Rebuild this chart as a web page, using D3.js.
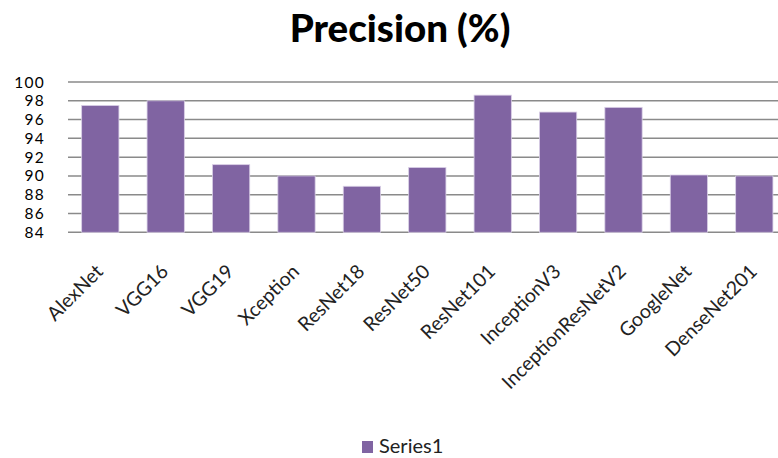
<!DOCTYPE html>
<html><head><meta charset="utf-8">
<script src="https://cdn.jsdelivr.net/npm/d3@7"></script>
<style>body{margin:0;background:#fff}svg{display:block}</style>
</head><body>
<script>
const categories = ["AlexNet","VGG16","VGG19","Xception","ResNet18","ResNet50","ResNet101","InceptionV3","InceptionResNetV2","GoogleNet","DenseNet201"];
const values = [97.5, 98.0, 91.2, 90.0, 88.9, 90.9, 98.6, 96.8, 97.3, 90.1, 90.0];
const yTicks = [84,86,88,90,92,94,96,98,100];
const seriesName = "Series1";
const title = "Precision (%)";

const W = 778, H = 458;
const svg = d3.select("body").append("svg").attr("width", W).attr("height", H);
const font = "Lato, 'Open Sans', sans-serif";

const x = d3.scaleBand().domain(categories).range([67.6, 787]).paddingInner(0.43).paddingOuter(0.215);
const y = d3.scaleLinear().domain([84, 100]).range([232.3, 82]);

// title
svg.append("text").attr("x", 400).attr("y", 42).attr("text-anchor", "middle")
  .attr("font-family", font).attr("font-weight", "900").attr("font-size", 38.5)
  .attr("fill", "#000").text(title);

// gridlines
svg.append("g").selectAll("line").data(yTicks).join("line")
  .attr("x1", 68).attr("x2", W).attr("y1", d => y(d)).attr("y2", d => y(d))
  .attr("stroke", "#8a8a8a").attr("stroke-width", 1.5);

// y labels
svg.append("g").selectAll("text").data(yTicks).join("text")
  .attr("x", 45).attr("y", d => y(d) + 5.5).attr("text-anchor", "end")
  .attr("font-family", font).attr("font-size", 15.5).attr("letter-spacing", 1.3)
  .attr("fill", "#000").text(d => d);

// bars
svg.append("g").selectAll("rect").data(values).join("rect")
  .attr("x", (d, i) => x(categories[i])).attr("width", x.bandwidth())
  .attr("y", d => y(d)).attr("height", d => y(84) - y(d))
  .attr("fill", "#8064a2").attr("stroke", "#d9cfe6").attr("stroke-width", 0.8);

// x labels
svg.append("g").selectAll("text").data(categories).join("text")
  .attr("transform", d => `translate(${x(d) + x.bandwidth()/2 - 1},${268}) rotate(-45)`)
  .attr("text-anchor", "end").attr("dy", "0.35em")
  .attr("font-family", font).attr("font-size", 19.5).attr("fill", "#222").text(d => d);

// legend
svg.append("rect").attr("x", 362).attr("y", 441).attr("width", 11).attr("height", 12).attr("fill", "#8064a2");
svg.append("text").attr("x", 379).attr("y", 453).attr("font-family", font).attr("font-size", 20)
  .attr("fill", "#222").text(seriesName);
</script>
</body></html>
